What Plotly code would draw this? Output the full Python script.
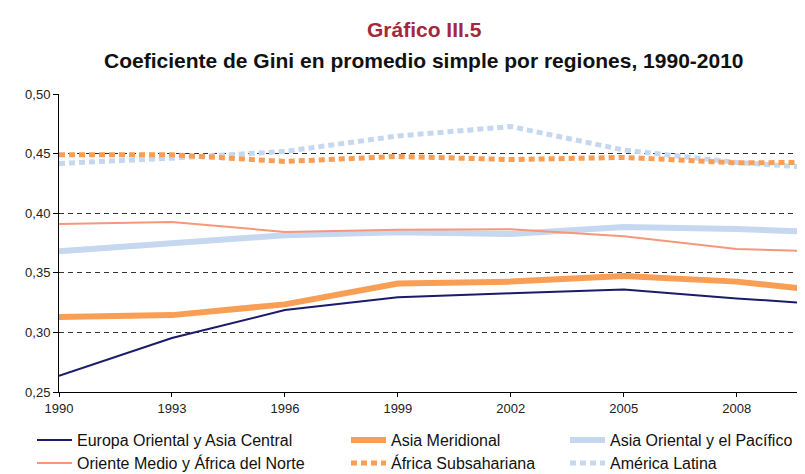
import plotly.graph_objects as go

# Años y coeficientes de Gini por región
years = [1990, 1993, 1996, 1999, 2002, 2005, 2008, 2010]

europa_oriental = [0.2635, 0.2953, 0.3187, 0.3295, 0.3328, 0.3360, 0.3285, 0.3243]
asia_meridional = [0.3130, 0.3145, 0.3235, 0.3410, 0.3426, 0.3474, 0.3426, 0.3360]
asia_oriental = [0.3680, 0.3750, 0.3815, 0.3840, 0.3826, 0.3885, 0.3868, 0.3843]
oriente_medio = [0.3910, 0.3927, 0.3843, 0.3862, 0.3866, 0.3806, 0.3700, 0.3680]
africa_subsahariana = [0.4490, 0.4490, 0.4434, 0.4476, 0.4450, 0.4468, 0.4423, 0.4426]
america_latina = [0.4417, 0.4462, 0.4518, 0.4648, 0.4727, 0.4530, 0.4426, 0.4383]

x_ticks = [1990, 1993, 1996, 1999, 2002, 2005, 2008]
y_ticks = [0.25, 0.30, 0.35, 0.40, 0.45, 0.50]

NAVY = "#1b1b6b"
ORANGE = "#f89e55"
LIGHTBLUE = "#c5d8ef"
SALMON = "#f6977c"

fig = go.Figure()

# thick lines first, thin and dotted on top
# one legend per item so each entry sits where the original has it
fig.add_trace(go.Scatter(x=years, y=asia_oriental, mode="lines", name="Asia Oriental y el Pacífico",
                         line=dict(color=LIGHTBLUE, width=6), legend="legend3"))
fig.add_trace(go.Scatter(x=years, y=asia_meridional, mode="lines", name="Asia Meridional",
                         line=dict(color=ORANGE, width=6), legend="legend2"))
fig.add_trace(go.Scatter(x=years, y=america_latina, mode="lines", name="América Latina",
                         line=dict(color=LIGHTBLUE, width=5, dash="6px,4px"), legend="legend6"))
fig.add_trace(go.Scatter(x=years, y=africa_subsahariana, mode="lines", name="África Subsahariana",
                         line=dict(color=ORANGE, width=5, dash="6px,4px"), legend="legend5"))
fig.add_trace(go.Scatter(x=years, y=oriente_medio, mode="lines", name="Oriente Medio y África del Norte",
                         line=dict(color=SALMON, width=2), legend="legend4"))
fig.add_trace(go.Scatter(x=years, y=europa_oriental, mode="lines", name="Europa Oriental y Asia Central",
                         line=dict(color=NAVY, width=2), legend="legend"))


# plot area: x 51..804, y 86..384 (pixels)
def px_x(px):
    return (px - 51) / 753


def px_y(py):
    return (384 - py) / 298


def leg(x, y):
    return dict(orientation="v", x=px_x(x), y=px_y(y),
                xanchor="left", yanchor="middle", itemwidth=35,
                font=dict(size=16, color="#111111"), bgcolor="rgba(0,0,0,0)")


fig.update_layout(
    width=805, height=474,
    margin=dict(l=51, r=1, t=86, b=90, autoexpand=False),
    paper_bgcolor="white", plot_bgcolor="white",
    font=dict(family="Liberation Sans, Arial, sans-serif", color="#222222"),
    separators=",.",
    showlegend=True,
    legend=leg(24, 432), legend4=leg(24, 455),
    legend2=leg(338, 432), legend5=leg(338, 455),
    legend3=leg(557, 432), legend6=leg(557, 455),
    xaxis=dict(range=[1990, 2010], tickvals=x_ticks, showgrid=False, zeroline=False,
               showline=True, linecolor="#000000", linewidth=1,
               ticks="outside", ticklen=4, tickcolor="#000000",
               tickfont=dict(size=13, color="#222222")),
    yaxis=dict(range=[0.25, 0.50], tickvals=y_ticks, tickformat=".2f", zeroline=False,
               showgrid=True, gridcolor="#333333", gridwidth=1, griddash="5px,4px",
               showline=True, linecolor="#000000", linewidth=1,
               ticks="outside", ticklen=5, tickcolor="#000000",
               tickfont=dict(size=13, color="#222222")),
    annotations=[
        dict(text="<b>Gráfico III.5</b>", xref="paper", yref="paper",
             x=px_x(416), y=px_y(21), showarrow=False, xanchor="center", yanchor="middle",
             font=dict(size=21, color="#a3283c")),
        dict(text="<b>Coeficiente de Gini en promedio simple por regiones, 1990-2010</b>",
             xref="paper", yref="paper", x=px_x(416), y=px_y(52), showarrow=False,
             xanchor="center", yanchor="middle", font=dict(size=21, color="#111111")),
    ],
)

fig.write_html("out.html")
